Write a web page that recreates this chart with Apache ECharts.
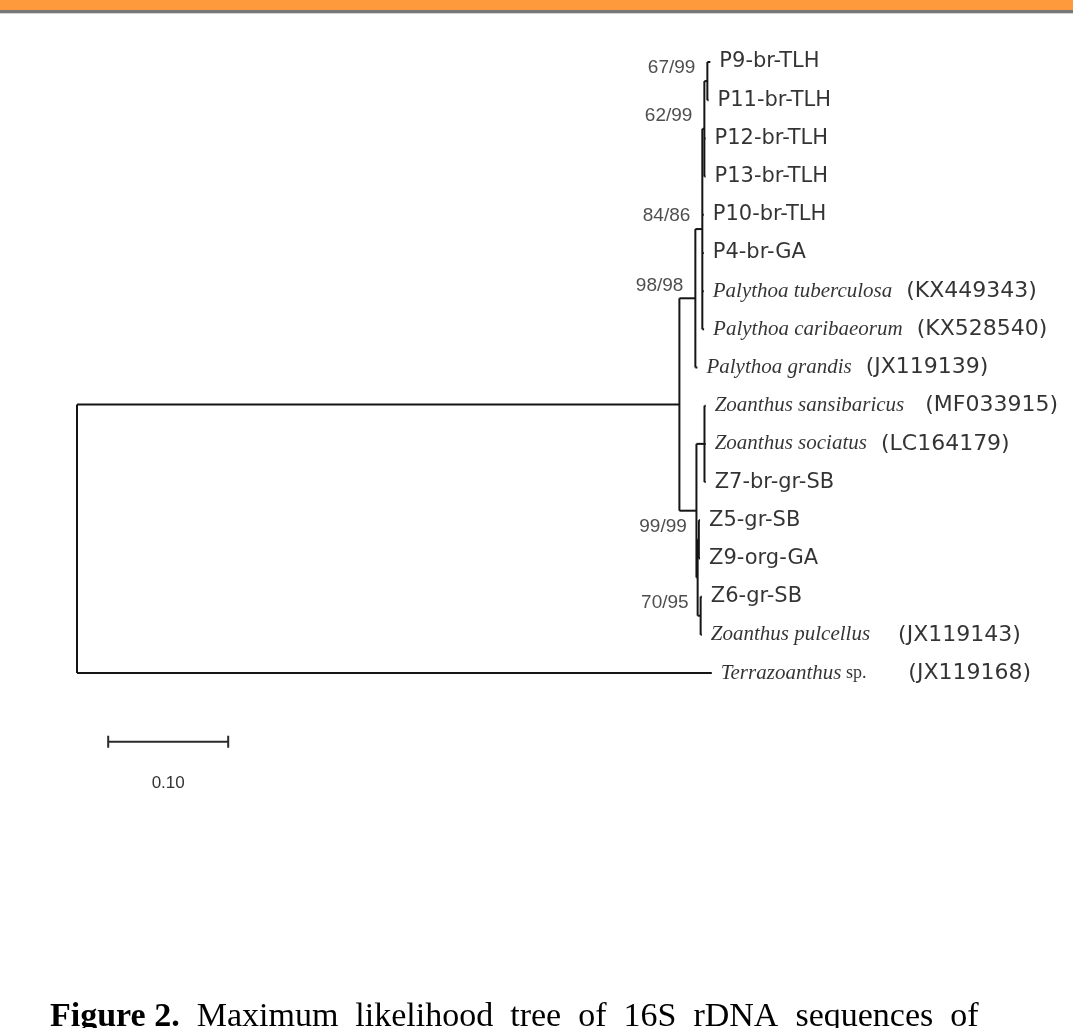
<!DOCTYPE html>
<html><head><meta charset="utf-8">
<script src="https://cdn.jsdelivr.net/npm/echarts@6/dist/echarts.min.js"></script>
<style>html,body{margin:0;padding:0;background:#fff}#c{width:1073px;height:1028px}</style>
</head><body><div id="c"></div>
<script>
// ---- tree data (parent index, branch length, bootstrap) ----
const nodeIds      = ['root','ingroup','palythoa','pal2','pal3','pal4','P9','P11','P12','P13','P10','P4','Ptub','Pcar','Pgra','zoanthus','zoa1','Zsan','Zsoc','Z7','zoa2','zoa3','Z5','Z9','zoa4','Z6','Zpul','Terra'];
const nodeParent   = [-1, 0, 1, 2, 3, 4, 5, 5, 4, 4, 3, 3, 3, 3, 2, 1, 15, 16, 16, 16, 15, 20, 21, 21, 20, 24, 24, 0];
const branchLength = [0, 0.502, 0.0133, 0.0058, 0.0017, 0.0025, 0.0025, 0.001, 0.001, 0.001, 0.0012, 0.0012, 0.0012, 0.0015, 0.0017, 0.0142, 0.0067, 0.001, 0.001, 0.001, 0.001, 0.001, 0.001, 0.001, 0.0025, 0.001, 0.001, 0.529];
const bootstrap    = ['', '', '98/98', '84/86', '62/99', '67/99', '', '', '', '', '', '', '', '', '', '', '', '', '', '', '', '99/99', '', '', '70/95', '', '', ''];

// ---- leaf labels (in leaf order, top to bottom) ----
const leafItalic    = ['', '', '', '', '', '', 'Palythoa tuberculosa', 'Palythoa caribaeorum', 'Palythoa grandis', 'Zoanthus sansibaricus', 'Zoanthus sociatus', '', '', '', '', 'Zoanthus pulcellus', 'Terrazoanthus'];
const leafSuffix    = ['', '', '', '', '', '', '', '', '', '', '', '', '', '', '', '', ' sp.'];
const leafPlain     = ['P9-br-TLH', 'P11-br-TLH', 'P12-br-TLH', 'P13-br-TLH', 'P10-br-TLH', 'P4-br-GA', '', '', '', '', '', 'Z7-br-gr-SB', 'Z5-gr-SB', 'Z9-org-GA', 'Z6-gr-SB', '', ''];
const leafAccession = ['', '', '', '', '', '', '  (KX449343)', '  (KX528540)', '  (JX119139)', '   (MF033915)', '  (LC164179)', '', '', '', '', '    (JX119143)', '      (JX119168)'];

// ---- scale bar ----
const scaleBarValue = 0.10;
const scaleBarLabel = '0.10';

const captionBold = 'Figure 2.';
const captionWords = ['Maximum', 'likelihood', 'tree', 'of', '16S', 'rDNA', 'sequences', 'of'];

// ---- layout computation from tree ----
const n = nodeIds.length;
const children = nodeIds.map(() => []);
nodeParent.forEach((p, i) => { if (p >= 0) children[p].push(i); });
const nx = new Array(n).fill(0), ny = new Array(n).fill(0);
let leafCounter = 0;
const leafOrder = [];
function walk(i, x) {
  nx[i] = x;
  if (children[i].length === 0) { ny[i] = leafCounter++; leafOrder.push(i); return; }
  children[i].forEach(c => walk(c, x + branchLength[c]));
  const cs = children[i];
  ny[i] = (ny[cs[0]] + ny[cs[cs.length - 1]]) / 2;
}
walk(0, 0);

const segments = [];
for (let i = 0; i < n; i++) {
  if (nodeParent[i] >= 0) segments.push([nx[nodeParent[i]], ny[i], nx[i], ny[i]]);
  const cs = children[i];
  if (cs.length) segments.push([nx[i], ny[cs[0]], nx[i], ny[cs[cs.length - 1]]]);
}
const leafPoints = leafOrder.map((id, k) => [nx[id], ny[id], k]);
const bootPoints = [];
for (let i = 0; i < n; i++) if (bootstrap[i]) bootPoints.push([nx[i], ny[i], bootstrap[i]]);

const scaleBarX = 0.026, scaleBarY = 17.8;

const chart = echarts.init(document.getElementById('c'));
chart.setOption({
  backgroundColor: '#ffffff',
  animation: false,
  grid: { left: 77, right: 36, top: 62, bottom: 355 },
  xAxis: { type: 'value', min: 0, max: 0.8, show: false },
  yAxis: { type: 'value', min: 0, max: 16, inverse: true, show: false },
  graphic: [
    { type: 'rect', shape: { x: 0, y: 0, width: 1073, height: 10 }, style: { fill: '#FE9A3B' } },
    { type: 'rect', shape: { x: 0, y: 10, width: 1073, height: 3 }, style: { fill: '#787878' } },
    { type: 'rect', shape: { x: 0, y: 13, width: 1073, height: 1 }, style: { fill: '#d4d4d4' } },
    { type: 'text', left: 50, top: 1000, style: {
        text: '{b|' + captionBold + '}{r|  ' + captionWords.join('  ') + '}',
        rich: {
          b: { fontFamily: 'Liberation Serif', fontSize: 34, fontWeight: 'bold', fill: '#000' },
          r: { fontFamily: 'Liberation Serif', fontSize: 34, fill: '#000' }
        } } }
  ],
  series: [
    {
      type: 'custom', name: 'branches', clip: false,
      data: segments,
      encode: { x: [0, 2], y: [1, 3] },
      renderItem: function (params, api) {
        const p1 = api.coord([api.value(0), api.value(1)]);
        const p2 = api.coord([api.value(2), api.value(3)]);
        return { type: 'line', shape: { x1: p1[0], y1: p1[1], x2: p2[0], y2: p2[1] },
                 style: { stroke: '#151515', lineWidth: 2 } };
      }
    },
    {
      type: 'custom', name: 'scalebar', clip: false,
      data: [[scaleBarX, scaleBarY, scaleBarX + scaleBarValue]],
      renderItem: function (params, api) {
        const a = api.coord([api.value(0), api.value(1)]);
        const b = api.coord([api.value(2), api.value(1)]);
        return { type: 'group', children: [
          { type: 'line', shape: { x1: a[0], y1: a[1], x2: b[0], y2: b[1] }, style: { stroke: '#2a2a2a', lineWidth: 2 } },
          { type: 'line', shape: { x1: a[0], y1: a[1] - 6, x2: a[0], y2: a[1] + 6 }, style: { stroke: '#2a2a2a', lineWidth: 2 } },
          { type: 'line', shape: { x1: b[0], y1: b[1] - 6, x2: b[0], y2: b[1] + 6 }, style: { stroke: '#2a2a2a', lineWidth: 2 } },
          { type: 'text', style: { text: scaleBarLabel, x: (a[0] + b[0]) / 2, y: a[1] + 42, align: 'center', verticalAlign: 'middle',
              font: '17px "Liberation Sans"', fill: '#333' } }
        ] };
      }
    },
    {
      type: 'scatter', name: 'leaves', symbolSize: 0, silent: true,
      data: leafPoints,
      label: {
        show: true, position: 'right', distance: 9,
        formatter: function (p) {
          const k = p.data[2];
          let s = '';
          if (leafItalic[k]) s += '{i|' + leafItalic[k] + '}';
          if (leafSuffix[k]) s += '{s|' + leafSuffix[k] + '}';
          if (leafPlain[k]) s += '{n|' + leafPlain[k] + '}';
          if (leafAccession[k]) s += '{a|' + leafAccession[k] + '}';
          return s;
        },
        rich: {
          i: { fontFamily: 'Liberation Serif', fontStyle: 'italic', fontSize: 21, color: '#000' },
          s: { fontFamily: 'Liberation Serif', fontSize: 18, color: '#000' },
          n: { fontFamily: 'DejaVu Sans', fontSize: 21, color: '#000' },
          a: { fontFamily: 'DejaVu Sans', fontSize: 22, color: '#000' }
        }
      }
    },
    {
      type: 'scatter', name: 'bootstrap', symbolSize: 0, silent: true,
      data: bootPoints,
      label: {
        show: true, position: 'left', distance: 12, offset: [0, -13],
        formatter: function (p) { return p.data[2]; },
        fontFamily: 'Liberation Sans', fontSize: 19, color: '#222'
      }
    }
  ]
});
</script>
</body></html>
